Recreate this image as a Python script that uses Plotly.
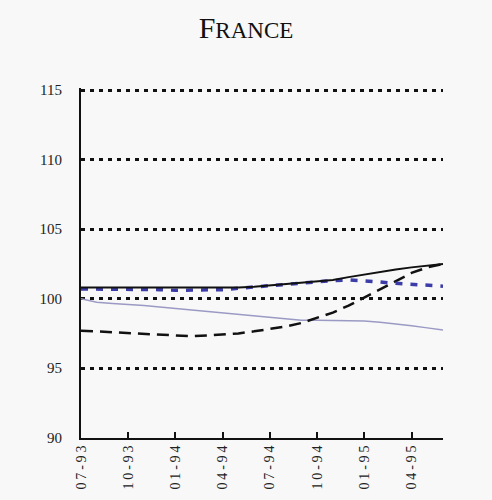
import plotly.graph_objects as go

# monthly points, 07-93 .. 06-95
months = list(range(24))
tick_pos = [0, 3, 6, 9, 12, 15, 18, 21]
tick_labels = ["07-93", "10-93", "01-94", "04-94", "07-94", "10-94", "01-95", "04-95"]

solid_black = [100.8, 100.8, 100.8, 100.8, 100.8, 100.8, 100.75, 100.75, 100.75, 100.75,
               100.8, 100.85, 100.95, 101.0, 101.1, 101.2, 101.35, 101.55, 101.75, 101.9,
               102.1, 102.25, 102.35, 102.5]
blue_dotted = [100.7, 100.7, 100.7, 100.7, 100.65, 100.65, 100.6, 100.6, 100.65, 100.65,
               100.75, 100.85, 100.95, 101.0, 101.1, 101.2, 101.3, 101.35, 101.3, 101.2,
               101.1, 101.05, 100.95, 100.9]
dashed_black = [97.7, 97.65, 97.6, 97.55, 97.5, 97.45, 97.35, 97.3, 97.35, 97.4,
                97.5, 97.65, 97.8, 98.0, 98.25, 98.6, 99.0, 99.5, 100.1, 100.7,
                101.3, 101.85, 102.25, 102.5]
gray_line = [100.0, 99.75, 99.65, 99.6, 99.5, 99.4, 99.3, 99.2, 99.1, 98.95,
             98.85, 98.75, 98.65, 98.55, 98.45, 98.45, 98.45, 98.45, 98.4, 98.3,
             98.2, 98.05, 97.9, 97.75]

fig = go.Figure()
fig.add_trace(go.Scatter(x=months, y=gray_line, mode="lines",
                         line=dict(color="#9a9ac4", width=1.5)))
fig.add_trace(go.Scatter(x=months, y=dashed_black, mode="lines",
                         line=dict(color="#111111", width=2.5, dash="12px,7px")))
fig.add_trace(go.Scatter(x=months, y=blue_dotted, mode="lines",
                         line=dict(color="#3c3ca8", width=3.5, dash="7px,8px")))
fig.add_trace(go.Scatter(x=months, y=solid_black, mode="lines",
                         line=dict(color="#111111", width=2)))

serif = "Liberation Serif"
spaced = ["\u2009".join(t) for t in tick_labels]
fig.update_layout(
    width=492, height=500,
    margin=dict(l=81, r=49, t=88, b=62),
    paper_bgcolor="#f8f8f8", plot_bgcolor="#f8f8f8",
    showlegend=False,
    font=dict(family=serif, color="#222222"),
    title=dict(text="F<span style='font-size:23px'>RANCE</span>",
               x=0.5, xanchor="center", y=0.945, yanchor="middle",
               font=dict(family=serif, size=30, color="#111111")),
)
fig.update_xaxes(
    range=[0, 23], tickvals=tick_pos, ticktext=spaced, tickangle=-90,
    showgrid=False, zeroline=False, showline=True, linecolor="#111111", linewidth=2,
    ticks="inside", ticklen=6, tickwidth=1.5, tickcolor="#111111",
    tickfont=dict(family=serif, size=14, color="#222222"),
)
fig.update_yaxes(
    range=[89.98, 115.15], tickvals=[90, 95, 100, 105, 110, 115],
    showgrid=True, gridcolor="#111111", gridwidth=2.5, griddash="4px,5px",
    zeroline=False, showline=True, linecolor="#111111", linewidth=2,
    ticks="", ticklabelstandoff=14,
    tickfont=dict(family=serif, size=15, color="#222222"),
)

fig.write_html("out.html", config={"displayModeBar": False},
               post_script="document.body.style.margin='0';")
